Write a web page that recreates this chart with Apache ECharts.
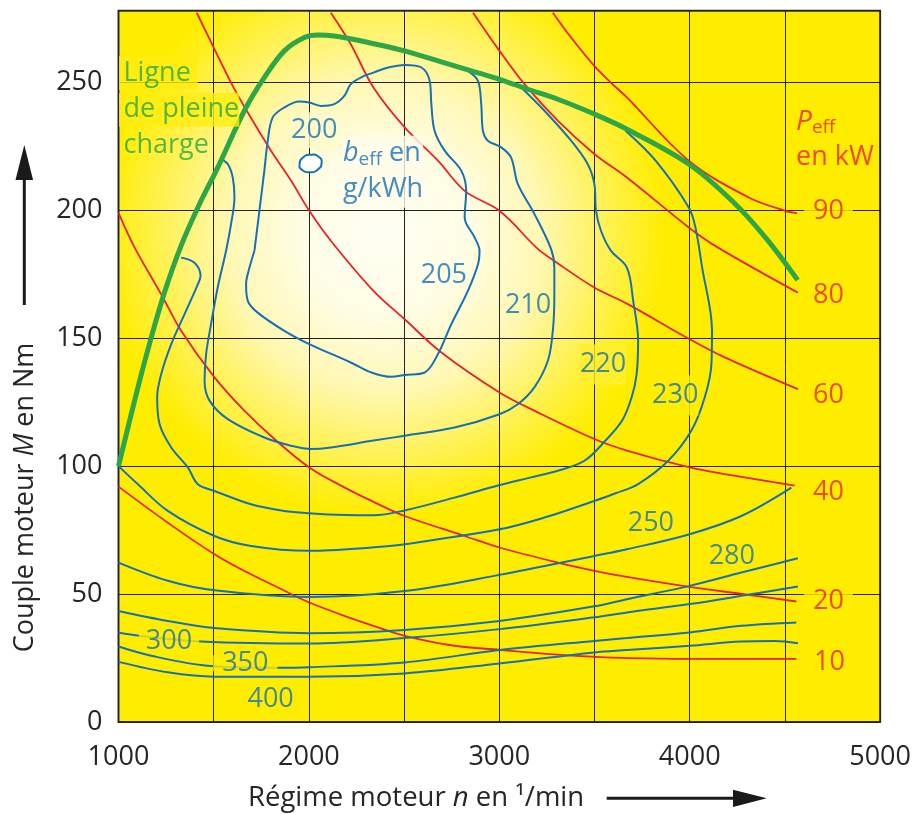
<!DOCTYPE html>
<html><head><meta charset="utf-8">
<script src="https://cdn.jsdelivr.net/npm/echarts@6/dist/echarts.min.js"></script>
<style>html,body{margin:0;padding:0;background:#fff}#c{width:914px;height:814px}</style>
</head><body><div id="c"></div>
<script>
// ---------- data (engine speed n in 1/min, torque M in Nm) ----------
const xTicks = [1000, 2000, 3000, 4000, 5000];
const yTicks = [0, 50, 100, 150, 200, 250];

const fullLoad = [[1000,100],[1102,130.8],[1172,150.3],[1244,168.5],[1329,186.2],[1417,201.1],[1521,216.7],[1661,238.9],[1766,251.9],[1871,262.3],[1976,267.5],[2046,268.5],[2133,268.1],[2329,265.3],[2503,262.3],[2678,258.4],[2853,254.5],[3001,251.2],[3150,247.3],[3307,243.4],[3499,237.6],[3670,231.7],[3995,218.1],[4222,203.7],[4397,189.4],[4567,172.7]];

// constant power curves (kW)
const p10 = [[1000,92],[1504,65.6],[1906,50.0],[2002,46.7],[2186,41.5],[2339,37.6],[2503,33.7],[2765,29.8],[3001,28.2],[3307,26.3],[3499,25.5],[3670,25.0],[3999,24.7],[4560,24.7]];
const p20 = [[1000,199],[1085,185.4],[1224,167.2],[1329,152.9],[1504,134.7],[1661,121.7],[1819,110.6],[2002,99.5],[2186,91.7],[2329,86.4],[2503,80.5],[2818,72.7],[3001,68.2],[3307,62.3],[3499,59.1],[3670,56.7],[3999,52.8],[4306,49.7],[4560,47.1]];
const p40 = [[1411,277.2],[1504,263.0],[1591,249.9],[1679,238.2],[1801,223.3],[1906,211.6],[2002,199.8],[2115,188.1],[2339,168.5],[2503,157.4],[2696,144.4],[3001,128.8],[3202,121.0],[3499,110.6],[3670,106.1],[4000,99.5],[4184,96.9],[4551,92.4]];
const p60 = [[2115,277.2],[2220,264.9],[2339,248.0],[2503,232.4],[2678,219.4],[2818,207.6],[3001,199.8],[3202,184.9],[3289,180.2],[3499,169.8],[3670,163.5],[4000,149.6],[4184,142.5],[4568,130.1]];
const p80 = [[2862,277.2],[3001,262.3],[3132,249.3],[3307,235.0],[3499,222.0],[3670,212.8],[3995,193.3],[4149,185.4],[4568,167.8]];
const p90 = [[3281,277.2],[3377,267.5],[3499,256.4],[3586,249.9],[3670,244.1],[3995,219.4],[4310,205.0],[4502,199.8],[4563,198.9]];

// specific consumption contours (g/kWh)
const b200 = [[1951,217.8],[1967,220.5],[2009,221.7],[2051,220.9],[2067,218.6],[2046,215.9],[2004,214.9],[1962,215.9]];
const b205 = [[1714,184.2],[1740,199.8],[1766,215.5],[1784,227.2],[1810,236.3],[1871,240.2],[1950,242.5],[2002,242.1],[2063,240.8],[2133,241.5],[2186,244.7],[2220,249.3],[2290,252.5],[2339,253.8],[2416,255.8],[2503,256.8],[2591,255.8],[2634,250.6],[2643,241.5],[2660,231.1],[2713,223.3],[2800,215.5],[2826,207.6],[2818,197.2],[2870,189.4],[2896,184.2],[2888,178.9],[2835,168.5],[2748,155.5],[2678,143.8],[2608,136.6],[2503,135.6],[2433,134.9],[2329,136.6],[2220,140.5],[2002,147.7],[1871,152.9],[1731,160.0],[1679,164.6],[1670,171.1],[1688,177.6],[1714,184.2]];
const b210 = [[1539,220.0],[1574,218.1],[1600,212.8],[1609,205.0],[1591,194.6],[1565,184.2],[1521,169.8],[1486,155.5],[1460,143.8],[1452,133.4],[1478,125.6],[1574,118.4],[1766,111.2],[1906,108.0],[2010,106.7],[2115,107.3],[2339,110.0],[2503,111.9],[2765,115.1],[3001,120.3],[3097,124.2],[3184,130.8],[3255,141.2],[3281,152.9],[3289,165.9],[3289,177.6],[3272,184.8],[3184,198.6],[3097,210.3],[3062,220.6],[3010,224.6],[2940,227.2],[2914,231.1],[2905,241.5],[2888,250.6],[2835,254.5]];
const b220 = [[3115,248.0],[3237,238.9],[3377,227.2],[3464,218.1],[3499,210.3],[3508,199.8],[3534,192.0],[3586,184.2],[3670,177.6],[3703,164.6],[3729,149.0],[3721,135.9],[3695,126.9],[3646,117.9],[3559,110.1],[3447,102.1],[3307,98.2],[3167,95.6],[2993,92.4],[2765,87.7],[2503,82.7],[2339,80.8],[2186,80.9],[2002,81.6],[1871,82.5],[1696,85.1],[1504,90.3],[1417,92.9],[1364,99.5],[1277,107.3],[1216,116.4],[1203,126.9],[1224,135.9],[1277,147.7],[1347,159.4],[1417,171.1],[1431,174.4],[1399,179.5],[1329,181.5]];
const b230 = [[3663,231.1],[3821,219.4],[3995,201.1],[4030,193.3],[4065,177.7],[4117,153.0],[4114,139.9],[4079,126.9],[4009,113.9],[3887,102.1],[3729,93.0],[3611,89.4],[3499,86.4],[3237,79.9],[3001,75.3],[2503,69.5],[2329,68.2],[2002,66.9],[1696,68.8],[1504,72.7],[1259,82.5],[1102,92.9],[1000,100]];
const b250 = [[1000,62.3],[1259,55.2],[1504,51.5],[2002,48.9],[2503,51.2],[3001,57.5],[3499,64.9],[3670,67.5],[4000,73.4],[4271,80.5],[4534,91.6]];
const b280 = [[1000,43.4],[1259,39.5],[1504,36.7],[2002,34.7],[2503,36.0],[3001,39.5],[3499,45.2],[3670,48.0],[4000,53.2],[4271,58.4],[4568,64.0]];
const b300 = [[1000,35.0],[1111,33.7],[1434,31.5],[2002,30.7],[2503,32.8],[3001,36.3],[3499,40.9],[3670,42.8],[4000,46.1],[4271,49.3],[4568,53.0]];
const b350 = [[1000,29.5],[1172,25.9],[1469,22.0],[1819,21.2],[2002,21.4],[2503,23.3],[3001,28.1],[3499,31.7],[3670,32.8],[4000,35.0],[4271,37.6],[4560,38.9]];
const b400 = [[1000,23.5],[1259,19.4],[1504,17.7],[2002,17.7],[2503,19.0],[3001,22.9],[3499,27.2],[3670,28.1],[4000,29.8],[4271,31.5],[4446,31.7],[4568,30.8]];

// label anchors [n, M, text]
const contourLabels = [[2028,231.3,'200'],[2709,174.7,'205'],[3151,162.8,'210'],[3545,139.7,'220'],[3924,127.6,'230'],[3796,77.7,'250'],[4221,64.8,'280'],[1265,31.4,'300'],[1666,23.0,'350'],[1799,8.8,'400']];
const powerLabels = [[4729,199.4,'90'],[4729,166.9,'80'],[4729,127.8,'60'],[4729,89.9,'40'],[4729,47.0,'20'],[4734,23.4,'10']];
const fullLoadText = [[1000,253.6,'Ligne'],[1000,239.3,'de pleine'],[1000,225.3,'charge']];
const beffText = [2176,215.1];
const peffText = [4556,227.6];

// ---------- styling ----------
const FONT = '"Open Sans","Noto Sans",sans-serif';
const RED = '#e8222b', BLUE = '#1570b6', GREEN = '#2ca646', YELLOW = '#ffed00', DARK = '#262626';

const chart = echarts.init(document.getElementById('c'));

function line(data, color, width) {
  return {type:'line', data, symbol:'none', smooth:0.35, lineStyle:{color, width}, silent:true, animation:false, z:3};
}

const labelBg = {
  '200': {backgroundColor:'#fffac8', lineHeight:36},
  '220': {backgroundColor:'#ffef2e', lineHeight:40},
  '230': {backgroundColor:YELLOW, lineHeight:40},
  '300': {backgroundColor:YELLOW, lineHeight:18, padding:[0,7]},
  '350': {backgroundColor:YELLOW, lineHeight:16, padding:[0,9]}
};
const powerBg = {
  '90': {backgroundColor:YELLOW, lineHeight:16, padding:[0,9]},
  '20': {backgroundColor:YELLOW, lineHeight:16, padding:[0,9]}
};

const labelData = [];
contourLabels.forEach(([n, m, t]) => labelData.push({value:[n, m], label:Object.assign({
  show:true, position:'inside', formatter:() => t, color:BLUE, fontSize:27, fontFamily:FONT}, labelBg[t] || {})}));
powerLabels.forEach(([n, m, t]) => labelData.push({value:[n, m], label:Object.assign({
  show:true, position:'inside', formatter:() => t, color:RED, fontSize:27, fontFamily:FONT}, powerBg[t] || {})}));
fullLoadText.forEach(([n, m, t], i) => labelData.push({value:[n, m], label:{
  show:true, position:'right', distance:0, formatter:() => t, color:GREEN, fontSize:27, fontFamily:FONT,
  lineHeight:34, backgroundColor: i < 2 ? '#ffee10' : 'transparent', padding:[0, i === 0 ? 7 : 0, 0, 4.5]}}));
labelData.push({value:beffText, label:{
  show:true, position:'right', distance:0, color:BLUE, fontFamily:FONT, fontSize:27, lineHeight:36,
  backgroundColor:'#fffdea',
  formatter:() => '{it|b}{sub|eff}{t| en}\n{t|g/kWh}',
  rich:{it:{fontStyle:'italic', fontSize:27, color:BLUE, fontFamily:FONT, lineHeight:36},
        sub:{fontSize:19, color:BLUE, fontFamily:FONT, lineHeight:36, padding:[12,0,0,0]},
        t:{fontSize:27, color:BLUE, fontFamily:FONT, lineHeight:36}}}});
labelData.push({value:peffText, label:{
  show:true, position:'right', distance:0, color:RED, fontFamily:FONT, fontSize:27, lineHeight:36,
  formatter:() => '{it|P}{sub|eff}\n{t|en kW}',
  rich:{it:{fontStyle:'italic', fontSize:28, color:RED, fontFamily:FONT, lineHeight:36},
        sub:{fontSize:19, color:RED, fontFamily:FONT, lineHeight:36, padding:[12,0,0,0]},
        t:{fontSize:27, color:RED, fontFamily:FONT, lineHeight:36}}}});

const option = {
  backgroundColor:'#ffffff',
  animation:false,
  grid:{left:118.5, right:32.3, top:10.7, bottom:92, show:true, borderColor:'#333', borderWidth:2,
    backgroundColor: new echarts.graphic.RadialGradient(0.349, 0.315, 0.394, [
      {offset:0, color:'#fffff4'}, {offset:0.3, color:'#fffde4'}, {offset:0.55, color:'#fff8b4'},
      {offset:0.78, color:'#fff258'}, {offset:1, color:YELLOW}])},
  xAxis:{type:'value', min:1000, max:5000, interval:500,
    axisLine:{show:false}, axisTick:{show:false},
    splitLine:{show:true, lineStyle:{color:'#222', width:1}},
    axisLabel:{formatter:v => xTicks.includes(v) ? String(v) : '', fontSize:27, color:DARK, fontFamily:FONT, margin:22}},
  yAxis:{type:'value', min:0, max:278, interval:50,
    axisLine:{show:false}, axisTick:{show:false},
    splitLine:{show:true, lineStyle:{color:'#222', width:1}},
    axisLabel:{formatter:v => yTicks.includes(v) ? String(v) : '', fontSize:27, color:DARK, fontFamily:FONT, margin:16}},
  series:[
    line(p10, RED, 1.8), line(p20, RED, 1.8), line(p40, RED, 1.8), line(p60, RED, 1.8), line(p80, RED, 1.8), line(p90, RED, 1.8),
    line(b205, BLUE, 2), line(b210, BLUE, 2), line(b220, BLUE, 2), line(b230, BLUE, 2),
    line(b250, BLUE, 2), line(b280, BLUE, 2), line(b300, BLUE, 2), line(b350, BLUE, 2), line(b400, BLUE, 2),
    {type:'custom', silent:true, animation:false, z:4, data:b200,
      renderItem:(params, api) => {
        if (params.dataIndex !== 0) return null;
        const pts = b200.map(p => api.coord(p));
        return {type:'polygon', shape:{points:pts, smooth:0.6}, style:{fill:'#ffffff', stroke:BLUE, lineWidth:2}};
      }},
    Object.assign(line(fullLoad, GREEN, 5), {z:5}),
    {type:'scatter', symbolSize:1, itemStyle:{color:'rgba(0,0,0,0)'}, silent:true, animation:false, z:10, data:labelData}
  ],
  graphic:[
    {type:'text', x:25, y:497.5, rotation:Math.PI/2, style:{
      text:'Couple moteur {it|M} en Nm', align:'center', verticalAlign:'middle', fill:DARK, fontSize:27, fontFamily:FONT,
      rich:{it:{fontStyle:'italic', fontSize:27, fill:DARK, fontFamily:FONT}}}},
    {type:'line', shape:{x1:24.3, y1:305, x2:24.3, y2:176}, style:{stroke:'#1a1a1a', lineWidth:3}},
    {type:'polygon', shape:{points:[[24.3,145],[15.5,180],[33.1,180]]}, style:{fill:'#1a1a1a'}},
    {type:'text', x:248, y:798, style:{
      text:'Régime moteur {it|n} en ¹/min', align:'left', verticalAlign:'middle', fill:DARK, fontSize:27.5, fontFamily:FONT,
      rich:{it:{fontStyle:'italic', fontSize:27.5, fill:DARK, fontFamily:FONT}}}},
    {type:'line', shape:{x1:606.7, y1:798.3, x2:736, y2:798.3}, style:{stroke:'#1a1a1a', lineWidth:3}},
    {type:'polygon', shape:{points:[[766.7,798.3],[733,789.7],[733,807]]}, style:{fill:'#1a1a1a'}}
  ]
};
chart.setOption(option);
</script></body></html>
